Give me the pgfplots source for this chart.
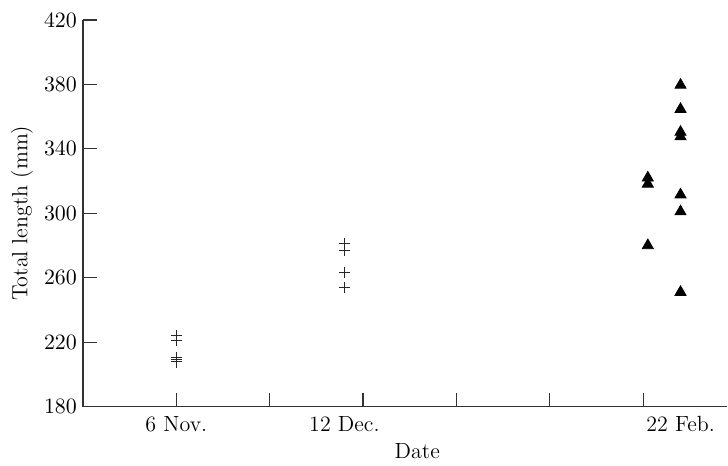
\documentclass[border=0pt]{standalone}
\usepackage{pgfplots}
\pgfplotsset{compat=1.18}

% x: days after 6 Nov.
\pgfplotstableread{
x y
0 223.8
0 220.9
0 210.7
0 209.1
0 207.7
36 281.0
36 277.0
36 263.4
36 254.0
}\early
\pgfplotstableread{
x y
101 322.0
101 318.2
101 280.0
108 379.6
108 364.6
108 350.4
108 347.6
108 311.5
108 301.0
108 251.0
}\late

\begin{document}
\begin{tikzpicture}
\begin{axis}[
    name=main,
    scale only axis,
    width=322.5pt, height=193.5pt,
    xmin=-20, xmax=118, ymin=180, ymax=420,
    axis lines=left,
    axis line style={-, line width=0.8pt, black!80},
    xtick={0,20,40,60,80,100}, xticklabels={6 Nov.,,,,,},
    extra x ticks={36,108},
    extra x tick labels={12 Dec., 22 Feb.},
    extra x tick style={major tick length=0pt, tick style={draw=none}},
    ytick={180,220,...,420},
    tick align=inside,
    major tick length=7pt,
    tick style={black!80, line width=0.6pt},
    tick label style={font=\fontsize{11}{13}\selectfont},
    label style={font=\fontsize{11}{13}\selectfont},
    xticklabel style={anchor=base, yshift=-12.5pt},
    yticklabel style={xshift=0.5pt},
    xlabel={Date}, ylabel={Total length (mm)},
    xlabel style={at={(axis description cs:0.519,0)}, anchor=base, yshift=-26pt},
    ylabel style={at={(axis description cs:0,0.5)}, anchor=center, yshift=30.5pt},
]
\addplot[only marks, mark=+, mark size=2.8pt, black!85, line width=0.5pt] table {\early};
\addplot[only marks, mark=triangle*, mark size=3.2pt, black] table {\late};
\end{axis}
% page frame: 728 x 464 px at 0.5pt per px
\path (main.south west) ++(-41.5pt,-28.5pt) rectangle ++(364pt,232pt);
\end{tikzpicture}
\end{document}
